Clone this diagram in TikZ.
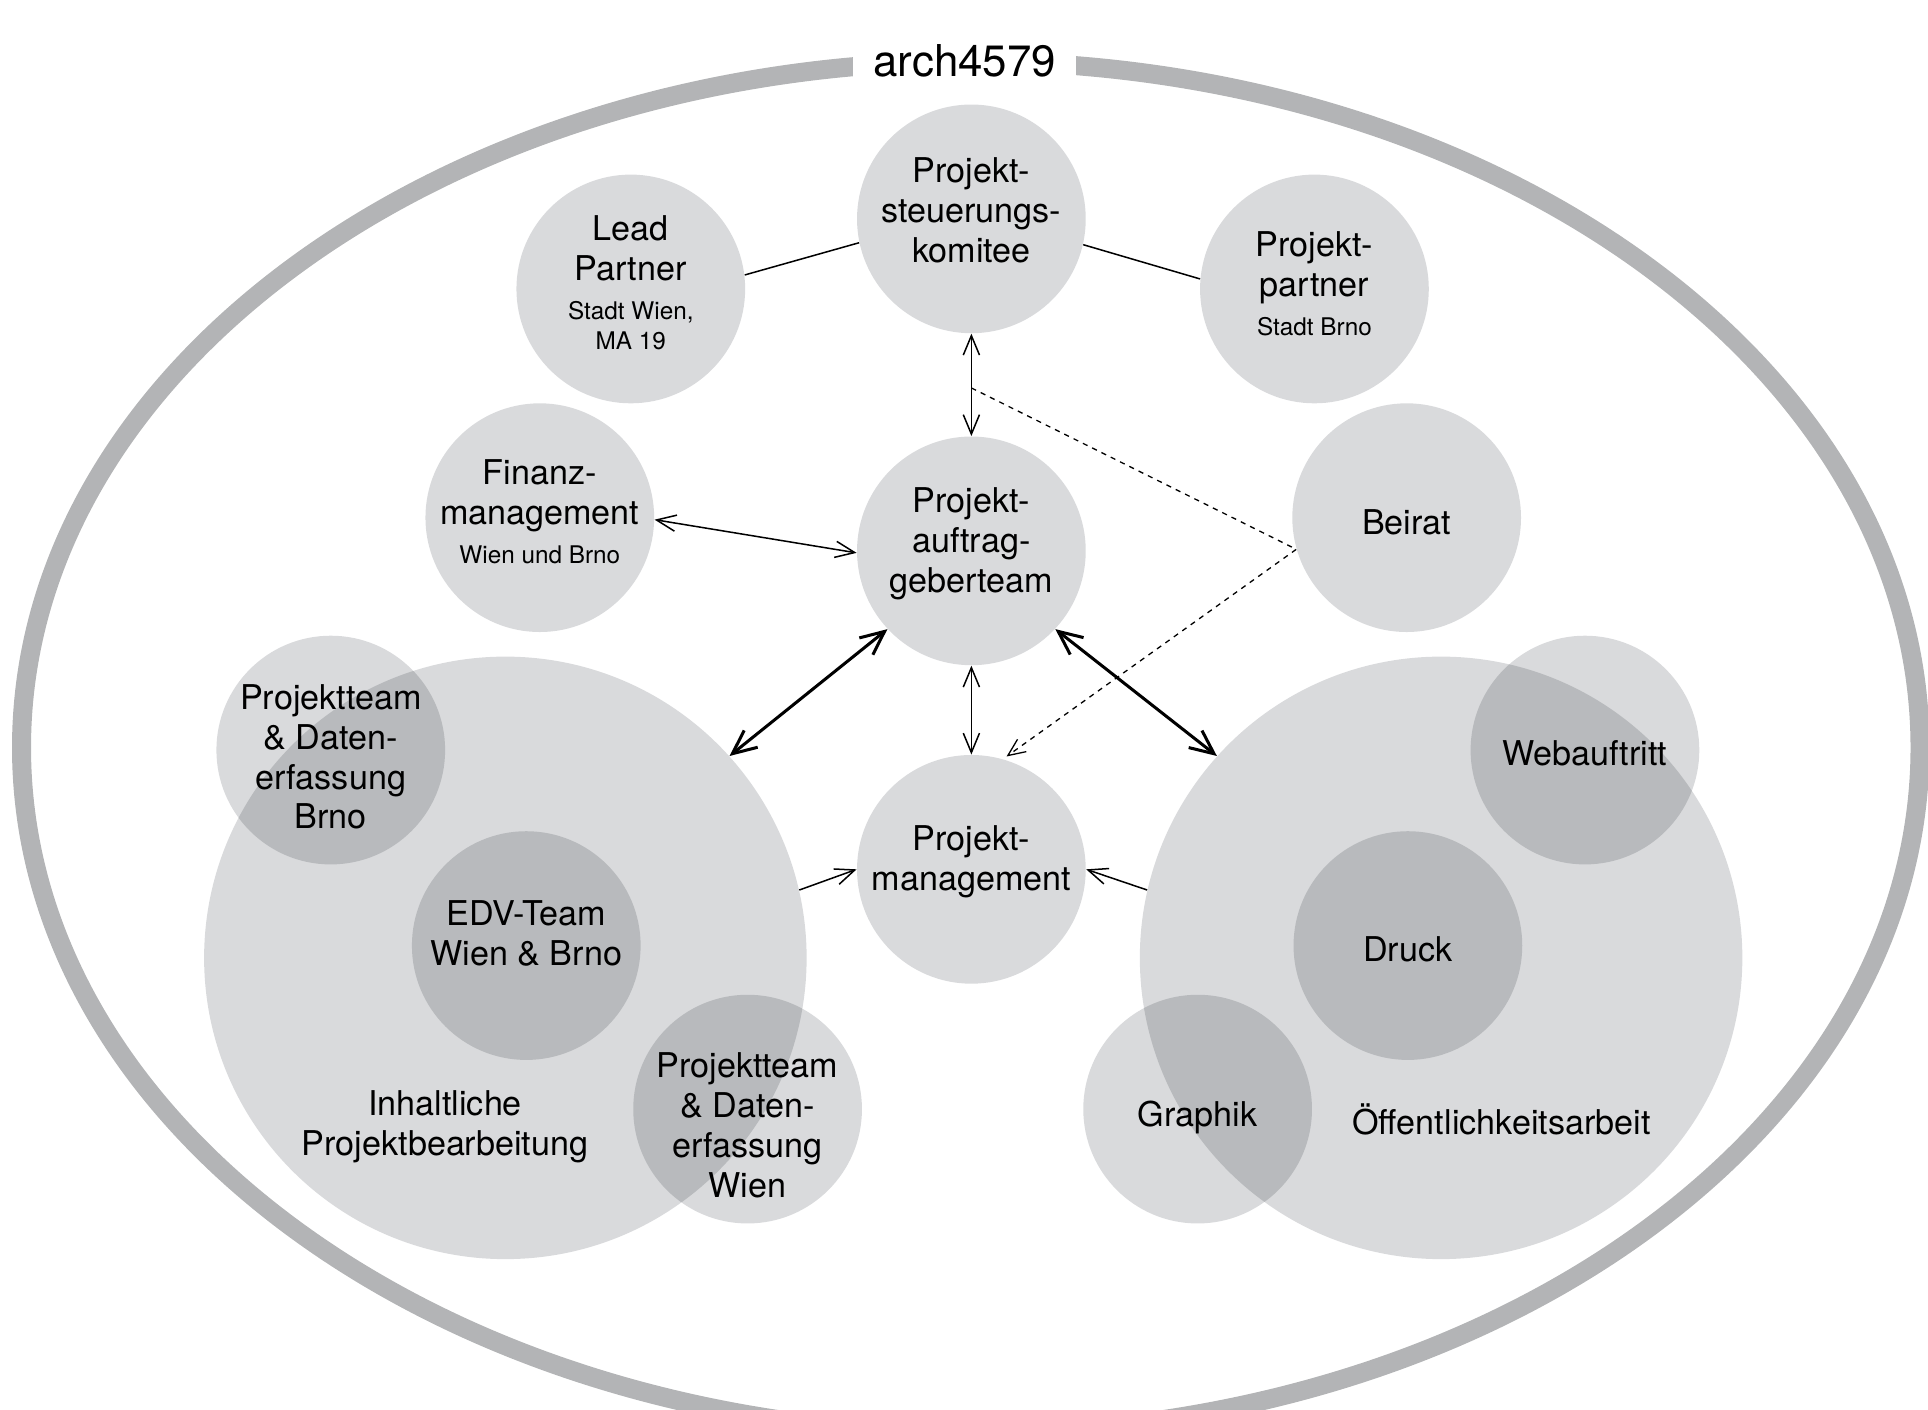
\documentclass[tikz,border=0pt]{standalone}
\usepackage{fontspec}
\setmainfont{TeX Gyre Heros}
\usepackage{tikz}
\usetikzlibrary{arrows.meta,calc}
\definecolor{kreisgrau}{RGB}{217,218,220}
\definecolor{randgrau}{RGB}{179,180,182}
\newcommand{\gross}{\fontsize{15.8}{18.5}\selectfont}
\newcommand{\klein}{\fontsize{11.25}{13.6}\selectfont}

\begin{document}
\begin{tikzpicture}[
    kreis/.style={circle,fill=kreisgrau,inner sep=0pt,minimum size=3.72cm},
    grosskreis/.style={circle,fill=kreisgrau,inner sep=0pt,minimum size=9.8cm},
    schrift/.style={align=center,font=\gross,inner sep=0pt},
    linie/.style={line width=0.7pt},
    pfeil/.style={line width=0.7pt,{Straight Barb[length=9pt,width=7.5pt]}-{Straight Barb[length=9pt,width=7.5pt]}},
    dickpfeil/.style={line width=1.4pt,{Straight Barb[length=11pt,width=10pt]}-{Straight Barb[length=11pt,width=10pt]}},
    zupfeil/.style={line width=0.7pt,-{Straight Barb[length=9pt,width=7.5pt]}},
    strichpfeil/.style={line width=0.6pt,dash pattern=on 2.4pt off 2.4pt,-{Straight Barb[length=8pt,width=7pt]},shorten >=2pt}
  ]
  \useasboundingbox (0,0) rectangle (31.36,-22.92);
  \draw[line width=8.8pt,randgrau] (15.79,-12.16) ellipse [x radius=15.44,y radius=11.16];
  \node[fill=white,inner sep=0pt,minimum width=3.63cm,minimum height=1cm,font=\fontsize{20.3}{24}\selectfont] (titel) at (15.69,-0.99) {arch4579};

  \begin{scope}[blend mode=multiply]
    \node[grosskreis] (inhalt) at (8.22,-15.58) {};
    \node[grosskreis] (oeffentlich) at (23.44,-15.58) {};
    \node[kreis] (psk) at (15.8,-3.56) {};
    \node[kreis] (lead) at (10.26,-4.7) {};
    \node[kreis] (partner) at (21.38,-4.7) {};
    \node[kreis] (finanz) at (8.78,-8.42) {};
    \node[kreis] (pat) at (15.8,-8.96) {};
    \node[kreis] (beirat) at (22.88,-8.42) {};
    \node[kreis] (pm) at (15.8,-14.14) {};
    \node[kreis] (brno) at (5.38,-12.2) {};
    \node[kreis] (edv) at (8.56,-15.38) {};
    \node[kreis] (wien) at (12.16,-18.04) {};
    \node[kreis] (web) at (25.78,-12.2) {};
    \node[kreis] (druck) at (22.9,-15.38) {};
    \node[kreis] (graphik) at (19.48,-18.04) {};
  \end{scope}

  \node[schrift] (psktext) at ([yshift=0.14cm]psk) {Projekt-\\steuerungs-\\komitee};
  \node[schrift] (leadtext) at ([yshift=0.1cm]lead) {Lead\\Partner\\[-0.4pt]{\klein Stadt Wien,}\\[-4.9pt]{\klein MA 19}};
  \node[schrift] (partnertext) at ([yshift=0.09cm]partner) {Projekt-\\partner\\[-0.4pt]{\klein Stadt Brno}};
  \node[schrift] (finanztext) at ([yshift=0.1cm]finanz) {Finanz-\\management\\[-0.4pt]{\klein Wien und Brno}};
  \node[schrift] (pattext) at ([yshift=0.12cm]pat) {Projekt-\\auftrag-\\geberteam};
  \node[schrift] (beirattext) at ([yshift=-0.08cm]beirat) {Beirat};
  \node[schrift] (pmtext) at ([yshift=0.13cm]pm) {Projekt-\\management};
  \node[schrift] (brnotext) at ([yshift=-0.11cm]brno) {Projektteam\\\& Daten-\\erfassung\\Brno};
  \node[schrift] (edvtext) at ([yshift=0.2cm]edv) {EDV-Team\\Wien \& Brno};
  \node[schrift] (wientext) at ([yshift=-0.27cm]wien) {Projektteam\\\& Daten-\\erfassung\\Wien};
  \node[schrift] (webtext) at ([yshift=-0.06cm]web) {Webauftritt};
  \node[schrift] (drucktext) at ([yshift=-0.06cm]druck) {Druck};
  \node[schrift] (graphiktext) at ([yshift=-0.14cm]graphik) {Graphik};
  \node[schrift] (inhalttext) at (7.24,-18.32) {Inhaltliche\\Projektbearbeitung};
  \node[schrift] (oeffentlichtext) at (24.42,-18.2) {Öffentlichkeitsarbeit};

  \draw[linie] (lead.7) -- (psk.192);
  \draw[linie] (psk.347) -- (partner.175);
  \draw[pfeil] (psk.south) -- (pat.north);
  \draw[pfeil] (finanz.359) -- (pat.181);
  \draw[pfeil] (pat.south) -- (pm.north);
  \draw[dickpfeil] (pat.223) -- (inhalt.42);
  \draw[dickpfeil] (pat.317) -- (oeffentlich.138);
  \draw[zupfeil] (inhalt.13) -- (pm.180);
  \draw[zupfeil] (oeffentlich.167) -- (pm.0);
  \draw[strichpfeil] ($(psk.south)!0.53!(pat.north)$) -- (beirat.196) -- (pm.74);
\end{tikzpicture}
\end{document}
